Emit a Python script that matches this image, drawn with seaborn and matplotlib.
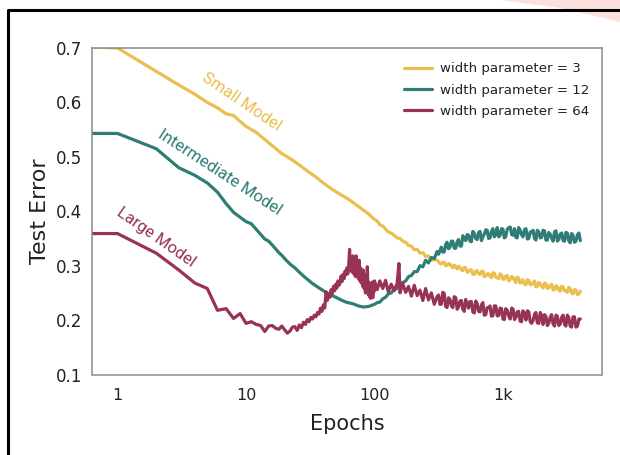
import matplotlib
matplotlib.use("Agg")
import matplotlib.pyplot as plt
from matplotlib.lines import Line2D
from matplotlib.patches import Polygon
from matplotlib.ticker import FixedLocator, FixedFormatter, LogLocator, NullFormatter
import seaborn as sns
import pandas as pd

# ---------------- data ----------------
labels = ["width parameter = 3", "width parameter = 12", "width parameter = 64"]
colors = ["#EBBE4F", "#2F7D76", "#973456"]
annotations = ["Small Model", "Intermediate Model", "Large Model"]

late_epochs = [100, 105, 110, 116, 122, 128, 135, 142, 150, 158, 166, 175, 184, 194, 204,
               215, 226, 238, 250, 263, 277, 292, 307, 323, 340, 358, 377, 397, 418, 440,
               463, 487, 513, 540, 568, 598, 630, 663, 698, 735, 773, 814, 857, 902, 950,
               1000, 1050, 1110, 1170, 1230, 1290, 1360, 1430, 1510, 1590, 1670, 1760, 1850,
               1950, 2050, 2160, 2270, 2390, 2520, 2650, 2790, 2940, 3090, 3250, 3420, 3600,
               3800, 4000]
mid_epochs = [315, 331, 349, 367, 387, 407, 429, 451, 475, 500, 526, 554, 583, 614, 646,
              680, 716, 754, 793, 835, 879, 926, 975, 1025, 1080, 1140, 1200, 1260, 1325,
              1395, 1470, 1550, 1630, 1715, 1805, 1900, 2000, 2105, 2215, 2330, 2455, 2585,
              2720, 2865, 3015, 3170, 3335, 3510, 3700, 3900]

small_epochs = [0.5, 1, 2, 3, 4, 5, 6, 7, 8, 9, 10, 12, 14, 16, 19, 22, 26, 30, 35, 40,
                47, 55, 62, 70, 80, 90] + late_epochs + mid_epochs
small_err = [0.703, 0.700, 0.657, 0.632, 0.615, 0.600, 0.590, 0.579, 0.576, 0.565, 0.556,
             0.545, 0.532, 0.521, 0.506, 0.497, 0.485, 0.474, 0.463, 0.452, 0.440, 0.430,
             0.423, 0.414, 0.404, 0.395,
             0.385, 0.382, 0.375, 0.373, 0.367, 0.362, 0.360, 0.356, 0.351, 0.350, 0.345,
             0.343, 0.337, 0.336, 0.329, 0.330, 0.323, 0.324, 0.317, 0.318, 0.310, 0.311,
             0.310, 0.304, 0.306, 0.300, 0.304, 0.299, 0.301, 0.294, 0.297, 0.291, 0.296,
             0.289, 0.292, 0.284, 0.291, 0.284, 0.290, 0.281, 0.285, 0.278, 0.286, 0.278,
             0.285, 0.275, 0.281, 0.272, 0.280, 0.273, 0.279, 0.268, 0.274, 0.265, 0.273,
             0.265, 0.272, 0.262, 0.267, 0.259, 0.267, 0.259, 0.266, 0.256, 0.262, 0.253,
             0.261, 0.254, 0.260, 0.250, 0.256, 0.247, 0.253,
             0.308, 0.303, 0.306, 0.301, 0.303, 0.296, 0.298, 0.299, 0.292, 0.297, 0.288,
             0.292, 0.284, 0.290, 0.285, 0.289, 0.280, 0.285, 0.280, 0.287, 0.279, 0.276,
             0.283, 0.275, 0.282, 0.274, 0.278, 0.269, 0.277, 0.270, 0.266, 0.274, 0.265,
             0.269, 0.261, 0.269, 0.262, 0.268, 0.258, 0.264, 0.255, 0.263, 0.255, 0.262,
             0.254, 0.251, 0.258, 0.248, 0.255, 0.248]

inter_epochs = [0.5, 1, 2, 3, 4, 5, 6, 7, 8, 9, 10, 11, 12, 13, 14, 15, 16, 17, 18, 19, 20,
                22, 24, 26, 28, 30, 33, 36, 40, 45, 50, 55, 60, 68, 75, 82, 90] \
    + late_epochs + mid_epochs
inter_err = [0.543, 0.543, 0.515, 0.480, 0.466, 0.452, 0.435, 0.414, 0.398, 0.389, 0.381,
             0.377, 0.367, 0.358, 0.349, 0.345, 0.338, 0.331, 0.324, 0.319, 0.313, 0.303,
             0.296, 0.288, 0.281, 0.275, 0.267, 0.261, 0.254, 0.247, 0.242, 0.237, 0.233,
             0.230, 0.226, 0.224, 0.225,
             0.229, 0.232, 0.233, 0.239, 0.242, 0.248, 0.250, 0.256, 0.258, 0.267, 0.269,
             0.272, 0.280, 0.282, 0.289, 0.289, 0.300, 0.298, 0.310, 0.305, 0.315, 0.313,
             0.326, 0.327, 0.325, 0.339, 0.331, 0.345, 0.332, 0.344, 0.336, 0.355, 0.346,
             0.356, 0.344, 0.359, 0.348, 0.363, 0.353, 0.366, 0.350, 0.363, 0.353, 0.370,
             0.356, 0.367, 0.353, 0.370, 0.357, 0.368, 0.351, 0.365, 0.353, 0.368, 0.350,
             0.361, 0.350, 0.365, 0.351, 0.365, 0.347, 0.361, 0.351, 0.362, 0.345, 0.358,
             0.346, 0.361, 0.346, 0.359, 0.343, 0.357, 0.346,
             0.321, 0.334, 0.325, 0.343, 0.334, 0.345, 0.332, 0.348, 0.336, 0.350, 0.357,
             0.345, 0.363, 0.350, 0.361, 0.346, 0.358, 0.365, 0.351, 0.368, 0.357, 0.353,
             0.368, 0.351, 0.367, 0.371, 0.356, 0.352, 0.370, 0.357, 0.366, 0.349, 0.362,
             0.365, 0.347, 0.362, 0.352, 0.364, 0.347, 0.358, 0.345, 0.364, 0.348, 0.360,
             0.345, 0.360, 0.342, 0.356, 0.345, 0.360]

large_epochs = [0.5, 1, 2, 3, 4, 5, 6, 7, 8, 9, 10, 11, 12, 13, 14, 15, 16, 17, 18, 19, 20,
                21, 22, 23, 24, 25, 26, 27, 28, 29, 30, 31, 32, 33, 34, 35, 36, 37, 38, 39,
                40, 41, 42, 43, 44, 45, 46, 47, 48, 49, 50, 51, 52, 53, 54, 55, 56, 57, 58,
                59, 60, 61, 62, 63, 64, 65, 66, 67, 68, 69, 70, 71, 72, 73, 74, 75, 76, 77,
                78, 79, 80, 81, 82, 83, 84, 85, 86, 87, 88, 89, 90, 91, 92, 93, 94, 95, 96,
                97, 98, 99, 100, 105, 110, 116, 122, 128, 135, 142, 150, 155, 158, 166, 175,
                184, 194, 204, 215, 226, 238, 250, 263, 277, 292, 307, 323, 340, 358, 377,
                397, 418, 440, 463, 487, 513, 540, 568, 598, 630, 663, 698, 735, 773, 814,
                857, 902, 950, 1000, 1050, 1110, 1170, 1230, 1290, 1360, 1430, 1510, 1590,
                1670, 1760, 1850, 1950, 2050, 2160, 2270, 2390, 2520, 2650, 2790, 2940, 3090,
                3250, 3420, 3600, 3800, 4000] + mid_epochs
large_err = [0.359, 0.359, 0.323, 0.292, 0.268, 0.258, 0.218, 0.221, 0.203, 0.212,
             0.194, 0.197, 0.192, 0.190, 0.179, 0.189, 0.190, 0.185, 0.183, 0.189, 0.182,
             0.176, 0.180, 0.187, 0.188, 0.181, 0.191, 0.186, 0.196, 0.192, 0.201, 0.197,
             0.205, 0.202, 0.209, 0.206, 0.214, 0.211, 0.222, 0.216, 0.228, 0.222, 0.252,
             0.236, 0.248, 0.242, 0.256, 0.249, 0.262, 0.254, 0.266, 0.259, 0.272, 0.264,
             0.268, 0.281, 0.271, 0.284, 0.276, 0.290, 0.283, 0.296, 0.285, 0.300, 0.330,
             0.292, 0.310, 0.288, 0.318, 0.285, 0.305, 0.280, 0.318, 0.282, 0.300, 0.276,
             0.310, 0.272, 0.296, 0.268, 0.290, 0.262, 0.292, 0.258, 0.283, 0.250, 0.278,
             0.255, 0.298, 0.248, 0.270, 0.244, 0.262, 0.240, 0.266, 0.246, 0.270, 0.241,
             0.262, 0.252, 0.272,
             0.256, 0.272, 0.258, 0.273, 0.252, 0.266, 0.254, 0.267, 0.304, 0.250, 0.267,
             0.251, 0.262, 0.244, 0.264, 0.245, 0.255, 0.236, 0.258, 0.237, 0.250, 0.229,
             0.243, 0.229, 0.251, 0.225, 0.241, 0.226, 0.243, 0.220, 0.235, 0.220, 0.238,
             0.222, 0.234, 0.213, 0.230, 0.215, 0.232, 0.210, 0.223, 0.207, 0.226, 0.208,
             0.222, 0.202, 0.221, 0.207, 0.222, 0.201, 0.215, 0.198, 0.217, 0.200, 0.215,
             0.194, 0.211, 0.195, 0.214, 0.192, 0.207, 0.194, 0.210, 0.189, 0.207, 0.193,
             0.209, 0.189, 0.205, 0.187, 0.206, 0.189, 0.202,
             0.246, 0.229, 0.249, 0.223, 0.238, 0.223, 0.241, 0.224, 0.236, 0.216, 0.230,
             0.234, 0.215, 0.235, 0.216, 0.228, 0.209, 0.223, 0.226, 0.208, 0.226, 0.208,
             0.221, 0.201, 0.218, 0.202, 0.220, 0.205, 0.216, 0.197, 0.213, 0.217, 0.197,
             0.199, 0.214, 0.194, 0.208, 0.210, 0.190, 0.205, 0.193, 0.209, 0.190, 0.205,
             0.192, 0.209, 0.189, 0.206, 0.187, 0.202]

x_ticks = [1, 10, 100, 1000]
x_ticklabels = ["1", "10", "100", "1k"]
y_ticks = [0.1, 0.2, 0.3, 0.4, 0.5, 0.6, 0.7]

# ---------------- build table ----------------
frames = []
for lab, ep, er in zip(labels, [small_epochs, inter_epochs, large_epochs],
                       [small_err, inter_err, large_err]):
    frames.append(pd.DataFrame({"Epochs": ep, "Test Error": er, "series": lab}))
df = pd.concat(frames, ignore_index=True)

# ---------------- plot ----------------
sns.set_style("white")
plt.rcParams["font.family"] = ["DejaVu Sans"]

fig = plt.figure(figsize=(6.2, 4.55), dpi=100)
ax = fig.add_axes([92 / 620, 1 - 374.5 / 455, (602 - 92) / 620, (374.5 - 48) / 455])

sns.lineplot(data=df, x="Epochs", y="Test Error", hue="series", hue_order=labels,
             palette=colors, estimator=None, sort=True, linewidth=2.3, ax=ax)

ax.set_xscale("log")
ax.set_xlim(0.633, 5900)
ax.set_ylim(0.1, 0.7)
ax.xaxis.set_major_locator(FixedLocator(x_ticks))
ax.xaxis.set_major_formatter(FixedFormatter(x_ticklabels))
ax.xaxis.set_minor_locator(LogLocator(base=10, subs=[2, 3, 4, 5, 6, 7, 8, 9], numticks=20))
ax.xaxis.set_minor_formatter(NullFormatter())
ax.set_yticks(y_ticks)
ax.set_yticklabels([f"{v:.1f}" for v in y_ticks])

for sp in ax.spines.values():
    sp.set_color("#8a8a8a")
    sp.set_linewidth(1.1)
ax.tick_params(axis="both", which="major", direction="out", length=4, width=1,
               color="#8a8a8a", labelcolor="#222222", pad=3)
ax.tick_params(axis="y", which="major", labelsize=12)
ax.tick_params(axis="x", which="major", labelsize=11.5, pad=6)
ax.tick_params(axis="x", which="minor", direction="out", length=2.5, width=0.8,
               color="#8a8a8a")

ax.set_xlabel("Epochs", fontsize=15, color="#222222", labelpad=8)
ax.set_ylabel("Test Error", fontsize=16, color="#222222", labelpad=4)

# legend
handles = [Line2D([0], [0], color=c, lw=2.3) for c in colors]
leg = ax.legend(handles, labels, loc="upper right", frameon=False, fontsize=9.6,
                handlelength=2.1, handletextpad=0.6, labelspacing=0.62,
                borderaxespad=0.5, bbox_to_anchor=(0.998, 0.993))
for t in leg.get_texts():
    t.set_color("#222222")

# in-plot annotations
ann_x = [9.3, 6.3, 2.0]
ann_y = [0.601, 0.472, 0.353]
ann_rot = [-34, -33, -35]
for txt, xx, yy, rot, c in zip(annotations, ann_x, ann_y, ann_rot, colors):
    ax.text(xx, yy, txt, color=c, fontsize=12, rotation=rot, rotation_mode="anchor",
            ha="center", va="center", family=["Roboto", "DejaVu Sans"])

# screenshot frame and decoration
fig.add_artist(Line2D([8 / 620, 8 / 620, 1.05], [-0.05, 1 - 9.5 / 455, 1 - 9.5 / 455],
                      color="black", lw=2.2, transform=fig.transFigure))
fig.add_artist(Polygon([[500 / 620, 1], [1.0, 1], [1.0, 1 - 22 / 455], [560 / 620, 1 - 8 / 455]],
                       closed=True, facecolor="#fbd9d6", edgecolor="none", alpha=0.8,
                       transform=fig.transFigure))

fig.savefig("out.png", dpi=100)
